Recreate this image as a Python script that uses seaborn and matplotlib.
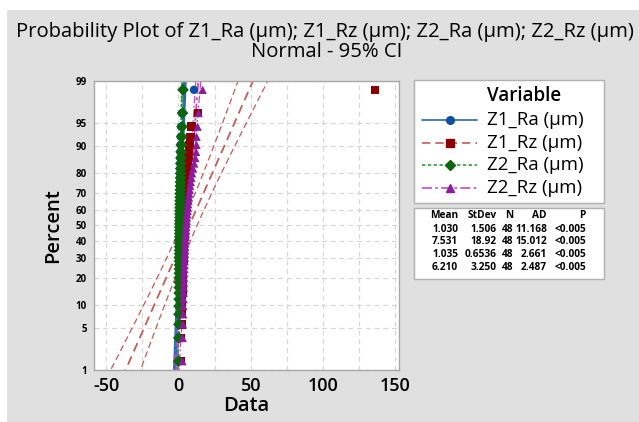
from statistics import NormalDist
import numpy as np
import pandas as pd
import matplotlib.pyplot as plt
from matplotlib.lines import Line2D
from matplotlib.patches import Rectangle
import seaborn as sns

# === data (sorted values) ===
variables = ["Z1_Ra (µm)", "Z1_Rz (µm)", "Z2_Ra (µm)", "Z2_Rz (µm)"]

z1_ra = [0.25, 0.30, 0.35, 0.38, 0.40, 0.42, 0.45, 0.48, 0.50, 0.52, 0.55, 0.57,
         0.60, 0.62, 0.64, 0.66, 0.68, 0.70, 0.72, 0.74, 0.76, 0.78, 0.80, 0.82,
         0.84, 0.86, 0.88, 0.90, 0.92, 0.95, 0.98, 1.00, 1.02, 1.05, 1.08, 1.10,
         1.14, 1.18, 1.22, 1.26, 1.30, 1.35, 1.40, 1.50, 1.60, 1.80, 2.40, 10.8]
z1_rz = [1.8, 2.0, 2.2, 2.4, 2.5, 2.6, 2.8, 2.9, 3.0, 3.1, 3.2, 3.3,
         3.4, 3.5, 3.6, 3.7, 3.8, 3.9, 4.0, 4.1, 4.2, 4.3, 4.4, 4.5,
         4.6, 4.7, 4.8, 4.9, 5.0, 5.1, 5.2, 5.3, 5.4, 5.5, 5.6, 5.7,
         5.8, 6.0, 6.2, 6.4, 6.6, 6.9, 7.2, 7.8, 8.4, 9.1, 13.5, 136.0]
z2_ra = [0.20, 0.30, 0.38, 0.45, 0.50, 0.55, 0.58, 0.62, 0.65, 0.68, 0.70, 0.72,
         0.75, 0.78, 0.80, 0.82, 0.85, 0.87, 0.90, 0.92, 0.95, 0.97, 1.00, 1.02,
         1.05, 1.08, 1.10, 1.12, 1.15, 1.18, 1.20, 1.24, 1.28, 1.30, 1.35, 1.40,
         1.45, 1.50, 1.56, 1.62, 1.70, 1.80, 1.90, 2.10, 2.30, 2.60, 2.90, 3.20]
z2_rz = [2.8, 3.0, 3.2, 3.4, 3.5, 3.6, 3.7, 3.8, 3.9, 4.0, 4.1, 4.2,
         4.3, 4.4, 4.5, 4.6, 4.7, 4.8, 4.9, 5.0, 5.1, 5.2, 5.4, 5.5,
         5.6, 5.8, 6.0, 6.2, 6.4, 6.6, 6.8, 7.0, 7.3, 7.6, 7.9, 8.2,
         8.6, 9.0, 9.5, 10.2, 11.0, 11.8, 12.3, 12.6, 12.6, 13.3, 14.0, 16.8]

# summary table (Minitab output)
means = [1.030, 7.531, 1.035, 6.210]
stdevs = [1.506, 18.92, 0.6536, 3.250]
n_obs = [48, 48, 48, 48]
ad_vals = [11.168, 15.012, 2.661, 2.487]
p_vals = ["<0.005", "<0.005", "<0.005", "<0.005"]

percent_ticks = [1, 5, 10, 20, 30, 40, 50, 60, 70, 80, 90, 95, 99]

# === styles ===
marker_map = dict(zip(variables, ["o", "s", "D", "^"]))
marker_col = dict(zip(variables, ["#0d4fa0", "#8b0000", "#0b650b", "#8e1a9e"]))
line_col = dict(zip(variables, ["#2c64b4", "#c65a5a", "#2f9a3f", "#c24ac4"]))
line_sty = dict(zip(variables, ["-", (0, (5, 3)), (0, (2, 1.5)), (0, (6, 2, 1.5, 2))]))

nd = NormalDist()


def _probit(p):
    p = np.asarray(p, dtype=float)
    out = np.full(p.shape, np.nan)
    ok = np.isfinite(p)
    q = np.clip(p[ok] / 100.0, 1e-9, 1 - 1e-9)
    out[ok] = [nd.inv_cdf(v) for v in q]
    return out


def _inv_probit(z):
    z = np.asarray(z, dtype=float)
    out = np.full(z.shape, np.nan)
    ok = np.isfinite(z)
    out[ok] = [100.0 * nd.cdf(v) for v in z[ok]]
    return out


# long table with Minitab plotting positions (median ranks)
frames = []
for name, vals in zip(variables, [z1_ra, z1_rz, z2_ra, z2_rz]):
    vals = np.sort(np.asarray(vals))
    n = len(vals)
    rank = np.arange(1, n + 1)
    frames.append(pd.DataFrame({"Variable": name, "Data": vals,
                                "Percent": 100 * (rank - 0.3) / (n + 0.4)}))
df = pd.concat(frames, ignore_index=True)

# === figure ===
sns.set_style("white")
plt.rcParams["font.family"] = ["Open Sans", "DejaVu Sans"]
plt.rcParams["text.color"] = "black"

W, H = 639, 422
fig = plt.figure(figsize=(W / 100, H / 100), dpi=100)
fig.patch.set_facecolor("white")
fig.add_artist(Rectangle((7 / W, 0), 1, 1 - 10 / H, transform=fig.transFigure,
                         facecolor="#e0e0e0", edgecolor="none", zorder=0))


def fx(px):
    return px / W


def fy(py):
    return 1 - py / H


ax = fig.add_axes([fx(94), fy(370), fx(399) - fx(94), fy(81) - fy(370)])
ax.set_facecolor("white")
ax.set_yscale("function", functions=(_probit, _inv_probit))
ax.set_ylim(1, 99)
ax.set_xlim(-58.3, 152.5)

# fitted lines with 95% CI
p_grid = np.linspace(0.2, 99.8, 200)
z_grid = _probit(p_grid)
for name, m, s, n in zip(variables, means, stdevs, n_obs):
    fit = m + s * z_grid
    half = 1.96 * s * np.sqrt((1 + z_grid ** 2 / 2) / n)
    for xs, lw in [(fit, 1.3), (fit - half, 0.9), (fit + half, 0.9)]:
        ax.plot(xs, p_grid, color=line_col[name], linestyle=line_sty[name], lw=lw, zorder=2)

sns.scatterplot(data=df, x="Data", y="Percent", hue="Variable", style="Variable",
                palette=marker_col, markers=marker_map, s=36, linewidth=0,
                legend=False, ax=ax, zorder=3)

# ticks and grid
ax.set_yticks(percent_ticks)
ax.set_yticklabels([str(t) for t in percent_ticks], fontsize=7, fontweight="bold")
ax.yaxis.set_minor_locator(plt.NullLocator())
ax.set_xticks([-50, 0, 50, 100, 150])
ax.set_xticks([-25, 25, 75, 125], minor=True)
ax.set_xticklabels(["-50", "0", "50", "100", "150"], fontsize=13, fontweight="semibold")
ax.tick_params(axis="both", which="both", direction="out", color="#a0a0a0", length=3, width=0.8,
               labelcolor="black")
ax.tick_params(axis="x", pad=2)
ax.tick_params(axis="y", pad=2)
ax.grid(True, which="both", color="#d8d8d8", linestyle=(0, (4, 3)), linewidth=0.9)
ax.set_axisbelow(True)
for sp in ax.spines.values():
    sp.set_color("#a8a8a8")
    sp.set_linewidth(1)

ax.set_xlabel("Data", fontsize=14.5, fontweight="semibold", labelpad=1, color="black")
ax.set_ylabel("Percent", fontsize=14.5, fontweight="semibold", labelpad=9, color="black")

# titles
fig.text(fx(325), fy(32), "Probability Plot of Z1_Ra (µm); Z1_Rz (µm); Z2_Ra (µm); Z2_Rz (µm)",
         ha="center", va="center", fontsize=14.6)
fig.text(fx(327), fy(52), "Normal - 95% CI", ha="center", va="center", fontsize=14.6)

# legend box
fig.add_artist(Rectangle((fx(414), fy(203)), fx(604) - fx(414), fy(80) - fy(203),
                         transform=fig.transFigure, facecolor="white", edgecolor="#b0b0b0", lw=1))
fig.text(fx(487), fy(96), "Variable", ha="left", va="center", fontsize=13.5, fontweight="semibold")
for i, name in enumerate(variables):
    yy = fy(120 + i * 22.7)
    fig.add_artist(Line2D([fx(422), fx(477)], [yy, yy], transform=fig.transFigure,
                          color=line_col[name], linestyle=line_sty[name], lw=1.2))
    fig.add_artist(Line2D([fx(449.5)], [yy], transform=fig.transFigure, marker=marker_map[name],
                          markersize=5.5, color=marker_col[name], linestyle="none"))
    fig.text(fx(487), yy, name, ha="left", va="center", fontsize=13.5)

# statistics box
fig.add_artist(Rectangle((fx(414), fy(279)), fx(604) - fx(414), fy(208) - fy(279),
                         transform=fig.transFigure, facecolor="white", edgecolor="#b0b0b0", lw=1))
col_right = [458, 497, 513, 547, 586]
headers = ["Mean", "StDev", "N", "AD", "P"]
rows = [[f"{m:.3f}", f"{s:#.4g}", str(n), f"{a:.3f}", p]
        for m, s, n, a, p in zip(means, stdevs, n_obs, ad_vals, p_vals)]
for j, (h, xr) in enumerate(zip(headers, col_right)):
    fig.text(fx(xr), fy(216), h, ha="right", va="center", fontsize=7.3, fontweight="bold")
    for i, row in enumerate(rows):
        fig.text(fx(xr), fy(229 + i * 12.8), row[j], ha="right", va="center",
                 fontsize=7.3, fontweight="bold")

fig.savefig("out.png", dpi=100, facecolor=fig.get_facecolor())
plt.close(fig)
